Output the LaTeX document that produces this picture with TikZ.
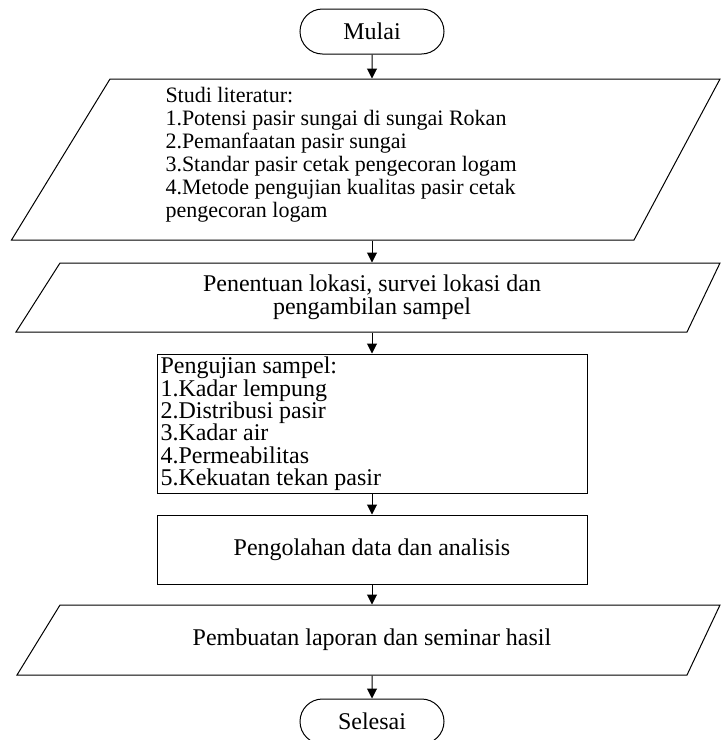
\documentclass[tikz,border=0pt]{standalone}
\usepackage{fontspec}
\setmainfont{Liberation Serif}
\usetikzlibrary{arrows.meta,shapes.misc}
\begin{document}
\begin{tikzpicture}[x=0.75pt,y=-0.75pt,
  line width=0.75pt,
  every node/.style={font=\fontsize{18}{16.8}\selectfont, inner sep=0pt},
  smalltxt/.style={font=\fontsize{16.5}{17.25}\selectfont},
  term/.style={draw, rounded rectangle, minimum width=108pt, minimum height=33.75pt},
  frame/.style={rectangle, inner sep=0pt, minimum width=300pt},
  procbox/.style={draw, rectangle, inner sep=0pt},
  arr/.style={-{Triangle[length=7.5pt,width=7.5pt]}},
  txt/.style={align=left, anchor=west}
]
\useasboundingbox (0,0) rectangle (721,740);
\clip (0,0) rectangle (721,740);

\node[term] (mulai) at (372,31.5) {Mulai};

\node[frame, minimum height=120.75pt] (p1) at (372,159.5) {};
\draw (11.5,240) -- (110,79) -- (720,79) -- (634,240) -- cycle;
\node[txt, smalltxt] (p1txt) at (165,154.5) {Studi literatur:\\1.Potensi pasir sungai di sungai Rokan\\2.Pemanfaatan pasir sungai\\3.Standar pasir cetak pengecoran logam\\4.Metode pengujian kualitas pasir cetak\\pengecoran logam};

\node[frame, minimum height=51.75pt, align=center, font=\fontsize{18}{17.5}\selectfont] (p2) at (372,297.5) {Penentuan lokasi, survei lokasi dan\\pengambilan sampel};
\draw (16,332) -- (60,263) -- (720,263) -- (687,332) -- cycle;

\node[procbox, minimum width=322.5pt, minimum height=104.25pt] (r3) at (372,423.5) {};
\node[txt] (r3txt) at (160,424) {Pengujian sampel:\\1.Kadar lempung\\2.Distribusi pasir\\3.Kadar air\\4.Permeabilitas\\5.Kekuatan tekan pasir};

\node[procbox, minimum width=322.5pt, minimum height=51.75pt] (r4) at (372,549.5) {Pengolahan data dan analisis};

\node[frame, minimum height=52.5pt] (p5) at (372,640) {Pembuatan laporan dan seminar hasil};
\draw (17,675) -- (60,605) -- (720,605) -- (687,675) -- cycle;

\node[term] (selesai) at (372,721.5) {Selesai};

\draw[arr] (mulai) -- (p1);
\draw[arr] (p1) -- (p2);
\draw[arr] (p2) -- (r3);
\draw[arr] (r3) -- (r4);
\draw[arr] (r4) -- (p5);
\draw[arr] (p5) -- (selesai);
\end{tikzpicture}
\end{document}
